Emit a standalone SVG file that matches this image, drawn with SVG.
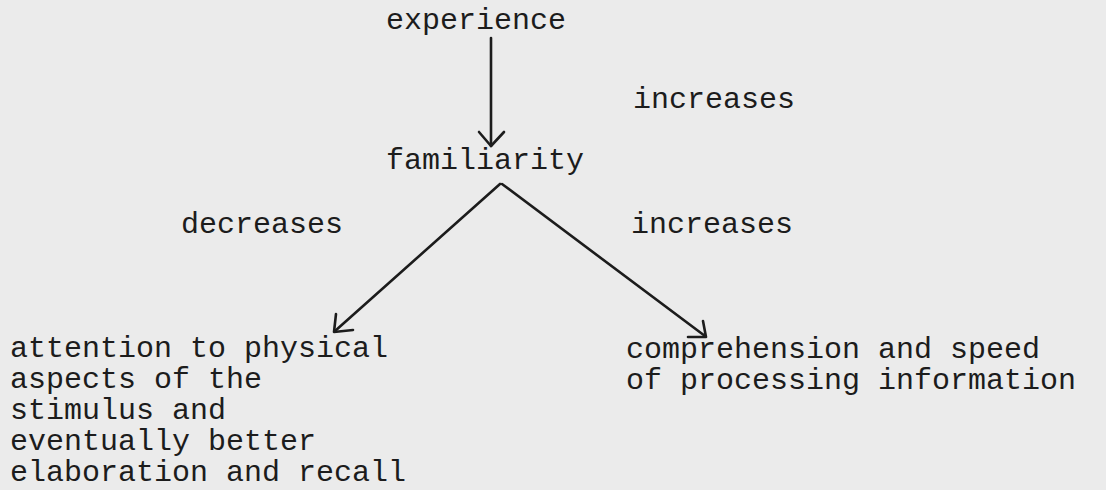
<svg xmlns="http://www.w3.org/2000/svg" width="1106" height="490" viewBox="0 0 1106 490">
<style>
.t{font-family:"Liberation Mono","Courier New",monospace;font-size:30px;fill:#1c1c1c}
.c{stroke:#1c1c1c;stroke-width:2.6;fill:none;stroke-linecap:round;stroke-linejoin:round}
</style>
<rect x="0" y="0" width="1106" height="490" fill="#ebebeb"/>
<g id="connectors">
<path class="c" d="M491 38 L491 146"/>
<path class="c" d="M479 132 L491 146 L504 132"/>
<path class="c" d="M500 184 L335 331"/>
<path class="c" d="M336 314 L334 332 L353 330"/>
<path class="c" d="M502 184 L705 336"/>
<path class="c" d="M703 321 L706 337 L688 337"/>
</g>
<g id="label-increases-1"><text class="t" x="633" y="108">increases</text></g>
<g id="label-decreases"><text class="t" x="181" y="233">decreases</text></g>
<g id="label-increases-2"><text class="t" x="631" y="233">increases</text></g>
<g id="node-experience"><text class="t" x="386" y="29">experience</text></g>
<g id="node-familiarity"><text class="t" x="386" y="169">familiarity</text></g>
<g id="node-attention">
<text class="t" x="10" y="357">attention to physical</text>
<text class="t" x="10" y="388">aspects of the</text>
<text class="t" x="10" y="419">stimulus and</text>
<text class="t" x="10" y="450">eventually better</text>
<text class="t" x="10" y="481">elaboration and recall</text>
</g>
<g id="node-comprehension">
<text class="t" x="626" y="358">comprehension and speed</text>
<text class="t" x="626" y="389">of processing information</text>
</g>
</svg>
